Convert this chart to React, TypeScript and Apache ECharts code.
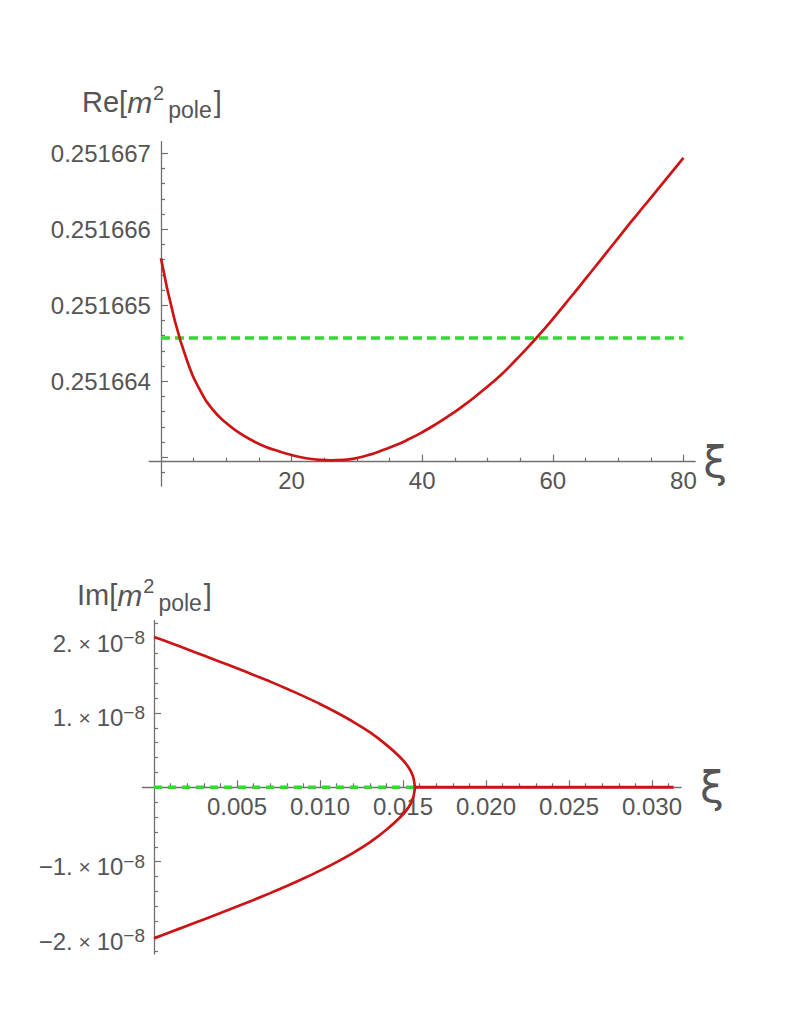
import React, { useEffect, useRef } from "react";
import * as echarts from "echarts";

const FONT = "'Liberation Sans', Arial, Helvetica, sans-serif";
const XI_FONT = "'DejaVu Sans', 'Liberation Sans', sans-serif";
const AXIS_COLOR = "#707070";
const TEXT_COLOR = "#555555";
const RED = "#cc1414";
const GREEN = "#33d933";

// ---------- Top panel: Re[m^2_pole] against xi ----------
const reXi = [
  0, 2, 4, 6, 8, 10, 12, 14, 16, 18, 20, 22, 24, 26, 28, 30, 32, 34, 36, 38, 40,
  42, 44, 46, 48, 50, 52, 54, 56, 58, 60, 62, 64, 66, 68, 70, 72, 74, 76, 78, 80,
];
const reM2 = [
  0.25166562, 0.25166484, 0.25166427, 0.25166388, 0.25166362, 0.25166345, 0.25166332, 0.25166322, 0.25166314,
  0.25166308, 0.25166303, 0.25166299, 0.25166297, 0.25166296, 0.251662965, 0.25166299, 0.251663035, 0.251663095,
  0.25166316, 0.25166324, 0.25166333, 0.25166343, 0.25166354, 0.25166366, 0.25166379, 0.25166393, 0.25166408,
  0.25166425, 0.25166443, 0.25166462, 0.25166482, 0.25166503, 0.25166524, 0.251665455, 0.25166567, 0.251665885,
  0.2516661, 0.25166631, 0.25166652, 0.25166673, 0.25166694,
];
const reRefXi = [0, 80];
const reRefM2 = [0.25166457, 0.25166457];
const reTickLabels = [0.251664, 0.251665, 0.251666, 0.251667];
const reMajorTicks = [0.251663, 0.251664, 0.251665, 0.251666, 0.251667];
const reXiTickLabels = [20, 40, 60, 80];
const reXiRange = [-1.8, 81.8];
const reRange = [0.251662622, 0.251667153];
const reAxisAt = 0.251662942; // where the xi axis crosses

// ---------- Bottom panel: Im[m^2_pole] against xi ----------
const imXi = [0, 0.001, 0.002, 0.003, 0.004, 0.005, 0.006, 0.007, 0.008, 0.009, 0.01, 0.011, 0.012, 0.013, 0.014, 0.0148, 0.0153, 0.0156, 0.01572];
const imUpper = [2.02e-8, 1.94e-8, 1.855e-8, 1.77e-8, 1.685e-8, 1.6e-8, 1.51e-8, 1.42e-8, 1.325e-8, 1.225e-8, 1.12e-8, 1.005e-8, 0.88e-8, 0.74e-8, 0.57e-8, 0.41e-8, 0.28e-8, 0.15e-8, 0];
const imLower = [-2.03e-8, -1.945e-8, -1.86e-8, -1.775e-8, -1.69e-8, -1.603e-8, -1.513e-8, -1.422e-8, -1.327e-8, -1.226e-8, -1.12e-8, -1.005e-8, -0.88e-8, -0.74e-8, -0.57e-8, -0.41e-8, -0.28e-8, -0.15e-8, 0];
const imFlatXi = [0.01572, 0.0313];
const imFlat = [0, 0];
const imRefXi = [0, 0.01572];
const imRef = [0, 0];
const imTickLabels = [-2e-8, -1e-8, 1e-8, 2e-8];
const imXiTickLabels = [0.005, 0.01, 0.015, 0.02, 0.025, 0.03];
const imXiRange = [-0.0007, 0.03175];
const imRange = [-2.24e-8, 2.24e-8];

// ---------- layout ----------
const topGrid = { left: 149.2, top: 141.7, width: 546, height: 344.3 };
const botGrid = { left: 142.4, top: 620.6, width: 538.6, height: 333.4 };

const frac = (v: number, r: number[]) => (v - r[0]) / (r[1] - r[0]);
const pairs = (xs: number[], ys: number[]) => xs.map((x, i) => [x, ys[i]]);

function minorTicks(range: number[], step: number, every: number) {
  const out: number[] = [];
  const a = Math.ceil(range[0] / step - 1e-9);
  const b = Math.floor(range[1] / step + 1e-9);
  for (let i = a; i <= b; i++) {
    if (i % every !== 0) out.push(+(i * step).toPrecision(12));
  }
  return out;
}

const tickLabelStyle = { color: TEXT_COLOR, fontFamily: FONT, fontSize: 24 };
const tickLine = { color: AXIS_COLOR, width: 1.2 };

function xAxes(gridIndex: number, range: number[], offset: number, labels: number[], majors: number[], minors: number[], fmt: (v: number) => string, nameGap: number) {
  return [
    {
      type: "value", gridIndex, min: range[0], max: range[1], position: "bottom", offset,
      axisLine: { show: true, onZero: false, lineStyle: { color: AXIS_COLOR, width: 1.3 } },
      axisTick: { show: true, inside: true, length: 7, customValues: majors, lineStyle: tickLine },
      axisLabel: { show: true, customValues: labels, formatter: fmt, margin: 7, ...tickLabelStyle },
      splitLine: { show: false },
      name: "ξ", nameLocation: "end", nameGap, nameMoveOverlap: false,
      nameTextStyle: { fontFamily: XI_FONT, fontSize: 43, color: TEXT_COLOR, verticalAlign: "middle", padding: [14, 0, 0, 0] },
    },
    {
      type: "value", gridIndex, min: range[0], max: range[1], position: "bottom", offset,
      axisLine: { show: false, onZero: false },
      axisTick: { show: true, inside: true, length: 4, customValues: minors, lineStyle: tickLine },
      axisLabel: { show: false },
      splitLine: { show: false },
    },
  ];
}

function yAxes(gridIndex: number, range: number[], offset: number, labels: number[], majors: number[], minors: number[], labelOpts: any) {
  return [
    {
      type: "value", gridIndex, min: range[0], max: range[1], position: "left", offset,
      axisLine: { show: true, onZero: false, lineStyle: { color: AXIS_COLOR, width: 1.3 } },
      axisTick: { show: true, inside: true, length: 7, customValues: majors, lineStyle: tickLine },
      axisLabel: { show: true, customValues: labels, ...tickLabelStyle, ...labelOpts },
      splitLine: { show: false },
    },
    {
      type: "value", gridIndex, min: range[0], max: range[1], position: "left", offset,
      axisLine: { show: false, onZero: false },
      axisTick: { show: true, inside: true, length: 4, customValues: minors, lineStyle: tickLine },
      axisLabel: { show: false },
      splitLine: { show: false },
    },
  ];
}

const titleRich = {
  n: { fontFamily: FONT, fontSize: 29, fontWeight: "normal", color: TEXT_COLOR, lineHeight: 38, verticalAlign: "middle" },
  i: { fontFamily: FONT, fontSize: 30, fontWeight: "normal", fontStyle: "italic", color: TEXT_COLOR, lineHeight: 38, verticalAlign: "middle" },
  sup: { fontFamily: FONT, fontSize: 20, fontWeight: "normal", color: TEXT_COLOR, lineHeight: 20, verticalAlign: "top", padding: [0, 4, 0, 1] },
  sub: { fontFamily: FONT, fontSize: 23, fontWeight: "normal", color: TEXT_COLOR, lineHeight: 23, verticalAlign: "bottom", padding: [0, 2, 0, 0] },
};

function buildOption() {
  const topXOff = -frac(reAxisAt, reRange) * topGrid.height;
  const topYOff = -frac(0, reXiRange) * topGrid.width;
  const botXOff = -frac(0, imRange) * botGrid.height;
  const botYOff = -frac(0, imXiRange) * botGrid.width;

  const sciFmt = (v: number) => {
    const m = Math.round(v / 1e-8);
    return `{n|${m < 0 ? "−" : ""}${Math.abs(m)}.}{x| × }{n|10}{s|−8}`;
  };

  return {
    animation: false,
    backgroundColor: "#ffffff",
    title: [
      { text: "{n|Re[}{i|m}{sup|2}{sub|pole}{n|]}", left: 82, top: 83, padding: 0, textStyle: { fontWeight: "normal", rich: titleRich } },
      { text: "{n|Im[}{i|m}{sup|2}{sub|pole}{n|]}", left: 77, top: 576, padding: 0, textStyle: { fontWeight: "normal", rich: titleRich } },
    ],
    grid: [
      { ...topGrid, containLabel: false, outerBoundsMode: "none" },
      { ...botGrid, containLabel: false, outerBoundsMode: "none" },
    ],
    xAxis: [
      ...xAxes(0, reXiRange, topXOff, reXiTickLabels, reXiTickLabels, minorTicks(reXiRange, 5, 4), (v) => String(v), 8),
      ...xAxes(1, imXiRange, botXOff, imXiTickLabels, imXiTickLabels, minorTicks(imXiRange, 0.001, 5), (v) => v.toFixed(3), 19),
    ],
    yAxis: [
      ...yAxes(0, reRange, topYOff, reTickLabels, reMajorTicks, minorTicks(reRange, 2e-7, 5), {
        formatter: (v: number) => v.toFixed(6), margin: 10,
      }),
      ...yAxes(1, imRange, botYOff, imTickLabels, imTickLabels, minorTicks(imRange, 2e-9, 5), {
        formatter: sciFmt, margin: 9, padding: [10, 0, 0, 0],
        rich: {
          n: { fontFamily: FONT, fontSize: 24, color: TEXT_COLOR, lineHeight: 30, verticalAlign: "middle" },
          x: { fontFamily: FONT, fontSize: 21, color: TEXT_COLOR, lineHeight: 30, verticalAlign: "middle" },
          s: { fontFamily: FONT, fontSize: 19, color: TEXT_COLOR, lineHeight: 19, verticalAlign: "top" },
        },
      }),
    ],
    series: [
      {
        type: "line", xAxisIndex: 0, yAxisIndex: 0, data: pairs(reRefXi, reRefM2), showSymbol: false, silent: true, z: 2,
        lineStyle: { color: GREEN, width: 3.6, type: [9, 5] },
      },
      {
        type: "line", xAxisIndex: 0, yAxisIndex: 0, data: pairs(reXi, reM2), showSymbol: false, smooth: 0.5, silent: true, z: 3,
        lineStyle: { color: RED, width: 2.7 },
      },
      {
        type: "line", xAxisIndex: 2, yAxisIndex: 2, data: pairs(imRefXi, imRef), showSymbol: false, silent: true, z: 2,
        lineStyle: { color: GREEN, width: 3.6, type: [8, 6] },
      },
      {
        type: "line", xAxisIndex: 2, yAxisIndex: 2, data: pairs(imXi, imUpper), showSymbol: false, smooth: 0.3, silent: true, z: 3,
        lineStyle: { color: RED, width: 2.7 },
      },
      {
        type: "line", xAxisIndex: 2, yAxisIndex: 2, data: pairs(imXi, imLower), showSymbol: false, smooth: 0.3, silent: true, z: 3,
        lineStyle: { color: RED, width: 2.7 },
      },
      {
        type: "line", xAxisIndex: 2, yAxisIndex: 2, data: pairs(imFlatXi, imFlat), showSymbol: false, silent: true, z: 3,
        lineStyle: { color: RED, width: 3 },
      },
    ],
  };
}

export default function App() {
  const ref = useRef<HTMLDivElement>(null);
  useEffect(() => {
    if (!ref.current) return;
    const chart = echarts.init(ref.current, null, { renderer: "svg" });
    chart.setOption(buildOption() as any);
    return () => chart.dispose();
  }, []);
  return (
    <div
      ref={ref}
      style={{ position: "absolute", left: 0, top: 0, width: 785, height: 1025, background: "#ffffff" }}
    />
  );
}
